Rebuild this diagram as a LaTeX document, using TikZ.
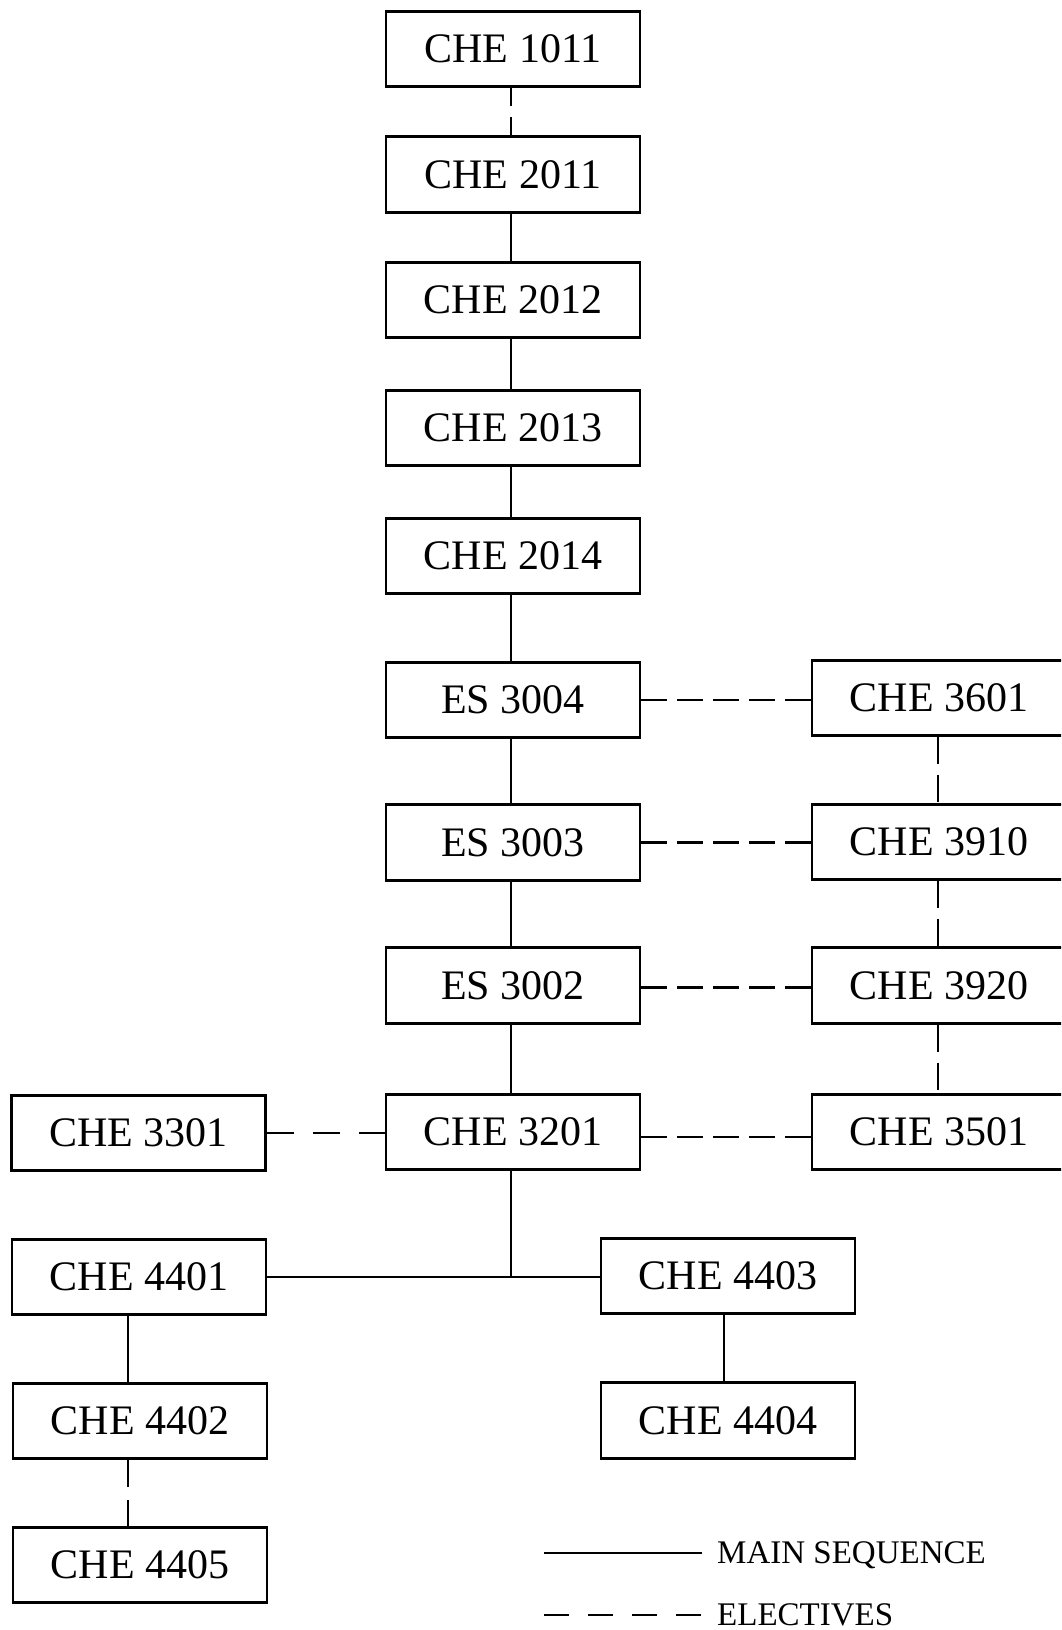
\documentclass[tikz,border=0pt]{standalone}
\usepackage{fontspec}
\setmainfont{Liberation Serif}
\begin{document}
\begin{tikzpicture}[x=1pt,y=-1pt,
  box/.style={draw, line width=2.9pt, rectangle, minimum width=254pt, minimum height=75.5pt, inner sep=0pt, font=\fontsize{42}{50}\selectfont},
  mainline/.style={line width=2.6pt},
  elective/.style={line width=2.6pt, dash pattern=on 26pt off 10pt},
  legtext/.style={inner sep=0pt, anchor=base west, font=\fontsize{33}{40}\selectfont}]
\clip (0,0) rectangle (1061,1630);
\fill[white] (0,0) rectangle (1061,1630);
% main column
\node[box] (c1011) at (513,49) {CHE 1011};
\node[box] (c2011) at (513,174.5) {CHE 2011};
\node[box] (c2012) at (513,300) {CHE 2012};
\node[box] (c2013) at (513,428) {CHE 2013};
\node[box] (c2014) at (513,556) {CHE 2014};
\node[box] (es3004) at (513,700) {ES 3004};
\node[box] (es3003) at (513,842.5) {ES 3003};
\node[box] (es3002) at (513,985.5) {ES 3002};
\node[box] (c3201) at (513,1132) {CHE 3201};
% right column
\node[box] (c3601) at (939,698) {CHE 3601};
\node[box] (c3910) at (939,842) {CHE 3910};
\node[box] (c3920) at (939,985.5) {CHE 3920};
\node[box] (c3501) at (939,1132) {CHE 3501};
% left
\node[box] (c3301) at (138.5,1133) {CHE 3301};
\node[box] (c4401) at (139,1277) {CHE 4401};
\node[box] (c4402) at (140,1421) {CHE 4402};
\node[box] (c4405) at (140,1565) {CHE 4405};
% lower right
\node[box] (c4403) at (728,1276) {CHE 4403};
\node[box] (c4404) at (728,1420.5) {CHE 4404};

% main sequence connectors
\draw[elective, dash pattern=on 18pt off 11pt] ([xshift=-2pt]c1011.south) -- ([xshift=-2pt]c2011.north);
\draw[mainline] ([xshift=-2pt]c2011.south) -- ([xshift=-2pt]c2012.north);
\draw[mainline] ([xshift=-2pt]c2012.south) -- ([xshift=-2pt]c2013.north);
\draw[mainline] ([xshift=-2pt]c2013.south) -- ([xshift=-2pt]c2014.north);
\draw[mainline] ([xshift=-2pt]c2014.south) -- ([xshift=-2pt]es3004.north);
\draw[mainline] ([xshift=-2pt]es3004.south) -- ([xshift=-2pt]es3003.north);
\draw[mainline] ([xshift=-2pt]es3003.south) -- ([xshift=-2pt]es3002.north);
\draw[mainline] ([xshift=-2pt]es3002.south) -- ([xshift=-2pt]c3201.north);
\draw[mainline] ([xshift=-2pt]c3201.south) -- ([xshift=-2pt]c3201.south |- c4401.east);
\draw[mainline] (c4401.east) -- (c4401.east -| c4403.west);
\draw[mainline] ([xshift=-11pt]c4401.south) -- ([xshift=-12pt]c4402.north);
\draw[mainline] ([xshift=-4pt]c4403.south) -- ([xshift=-4pt]c4404.north);

% electives
\draw[elective] (es3004.east) -- (es3004.east -| c3601.west);
\draw[elective] (es3003.east) -- (es3003.east -| c3910.west);
\draw[elective] ([yshift=-2pt]es3002.east) -- ([yshift=-2pt]es3002.east -| c3920.west);
\draw[elective] ([yshift=-5pt]c3201.east) -- ([yshift=-5pt]c3201.east -| c3501.west);
\draw[elective, dash pattern=on 27pt off 19pt] (c3301.east) -- (c3301.east -| c3201.west);
\draw[elective, dash pattern=on 27pt off 11pt] ([xshift=-1pt]c3601.south) -- ([xshift=-1pt]c3910.north);
\draw[elective, dash pattern=on 27pt off 11pt] ([xshift=-1pt]c3910.south) -- ([xshift=-1pt]c3920.north);
\draw[elective, dash pattern=on 27pt off 11pt] ([xshift=-1pt]c3920.south) -- ([xshift=-1pt]c3501.north);
\draw[elective, dash pattern=on 27pt off 13pt] ([xshift=-12pt]c4402.south) -- ([xshift=-12pt]c4405.north);

% legend
\coordinate (ms1) at (544,1553);
\coordinate (ms2) at (702,1553);
\coordinate (el1) at (544,1615);
\coordinate (el2) at (702,1615);
\draw[mainline] (ms1) -- (ms2);
\draw[elective, dash pattern=on 25pt off 19pt] (el1) -- (el2);
\node[legtext] (mstext) at (717,1563) {MAIN SEQUENCE};
\node[legtext] (eltext) at (717,1625) {ELECTIVES};
\end{tikzpicture}
\end{document}
